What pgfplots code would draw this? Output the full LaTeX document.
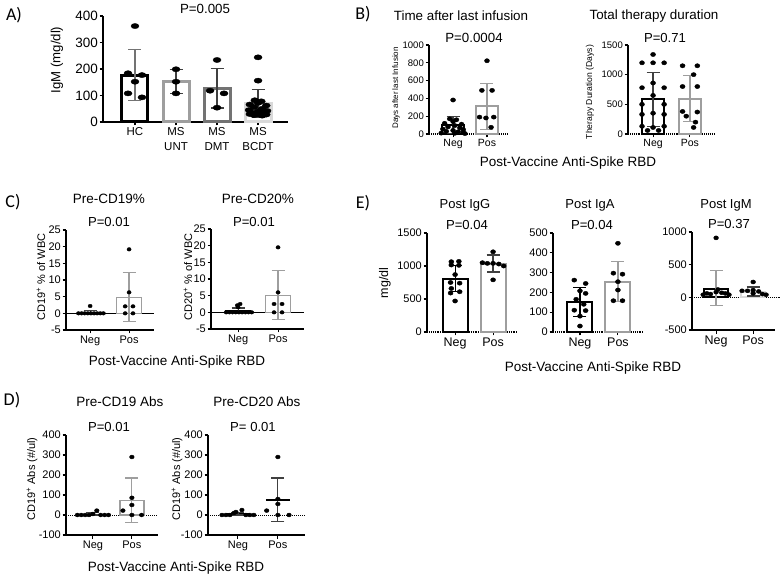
\documentclass[border=0pt]{standalone}
\usepackage{fontspec}
\setmainfont{Liberation Sans}
\newfontfamily\letterfont{Carlito}
\usepackage{pgfplots}
\pgfplotsset{compat=1.18}
\newcommand{\fs}[1]{\fontsize{#1}{#1}\selectfont}
\definecolor{lg}{gray}{0.62}
\definecolor{llg}{gray}{0.85}
\definecolor{mg}{gray}{0.45}
\definecolor{dg}{gray}{0.25}
\pgfplotsset{
  gp/.style={
    scale only axis, anchor=south west,
    axis lines*=left,
    axis line style={line width=1.1pt},
    tick align=outside, major tick length=3.5pt,
    tick style={line width=1.1pt, black},
    xtick={0,1}, xticklabels={Neg,Pos},
    clip=false,
    /pgf/number format/assume math mode=true,
    /pgf/number format/1000 sep={},
    yticklabel style={inner sep=1.5pt},
    xticklabel style={inner sep=2pt},
  },
  gbar/.style={ybar, bar shift=0pt, fill=white, forget plot},
  eb/.style={mark=none, forget plot, error bars/.cd, y dir=both, y explicit,
     error bar style={line width=1.2pt, #1},
     error mark options={rotate=90, mark size=6.5pt, line width=1.2pt, #1}},
  dots/.style={only marks, mark=*, black, mark size=#1, mark options={yscale=0.85}, forget plot},
}
\newcommand{\T}[4]{\node[font=#3, inner sep=0pt, anchor=center] at (#1pt,{579pt-#2pt}) {#4};}
\newcommand{\R}[4]{\node[font=#3, inner sep=0pt, anchor=center, rotate=90] at (#1pt,{579pt-#2pt}) {#4};}
\begin{document}
\begin{tikzpicture}
\path[use as bounding box] (0,0) rectangle (782pt,579pt);

% ---------------- Panel A ----------------
\begin{axis}[gp, at={(103pt,457pt)}, width=185pt, height=106pt,
  xmin=-0.78, xmax=3.73, ymin=0, ymax=400, ytick={0,100,200,300,400},
  xtick={0,1,2,3}, xticklabels={HC,{MS\\UNT},{MS\\DMT},{MS\\BCDT}},
  xticklabel style={align=center, font=\fontsize{11.5}{15}\selectfont},
  yticklabel style={font=\fs{13.5}},
  axis line style={line width=1.5pt}, tick style={line width=1.5pt}]
\addplot[gbar, draw=black, line width=3pt, bar width=26pt] coordinates {(0,177)};
\addplot[gbar, draw=lg, line width=3pt, bar width=26pt] coordinates {(1,152)};
\addplot[gbar, draw=mg, line width=3pt, bar width=26pt] coordinates {(2,128)};
\addplot[gbar, draw=llg, line width=3pt, bar width=26pt] coordinates {(3,70)};
\addplot[eb=mg] coordinates {(0,177) += (0,97) -= (0,97)};
\addplot[eb=dg] coordinates {(1,152) += (0,45) -= (0,45)};
\addplot[eb=dg] coordinates {(2,128) += (0,74) -= (0,75)};
\addplot[eb=dg] coordinates {(3,70) += (0,53) -= (0,53)};
\addplot[dots=4pt, mark options={yscale=0.65}] coordinates {
 (0,362) (-0.17,184) (0.17,177) (0,152) (-0.17,108) (0.17,93)
 (1,199) (1,152) (1,108)
 (2,234) (1.83,118) (2.17,108) (2,54)
 (3,244) (3,156) (2.92,82) (3.08,78) (3,72) (2.8,66) (3.2,62) (2.9,56) (3.1,50)
 (2.78,45) (3.22,42) (3,40) (2.86,35) (3.14,33) (3,29) (2.9,26) (3.1,24) (2.8,30) (3.2,28)};
\end{axis}
\T{14}{15}{\letterfont\fs{18}}{A)}
\T{205}{9}{\fs{13.3}}{P=0.005}
\R{57}{60}{\fs{13.2}}{IgM (mg/dl)}

% ---------------- Panel B ----------------
\begin{axis}[gp, at={(429pt,445pt)}, width=78pt, height=89pt,
  xmin=-0.71, xmax=1.59, ymin=0, ymax=1000, ytick={0,200,400,600,800,1000},
  x axis line style={dash pattern=on 1pt off 0.9pt},
  yticklabel style={font=\fs{9.5}}, xticklabel style={font=\fs{10.5}}]
\addplot[gbar, draw=black, line width=2pt, bar width=22pt] coordinates {(0,100)};
\addplot[gbar, draw=lg, line width=2pt, bar width=22pt] coordinates {(1,310)};
\addplot[eb=dg] coordinates {(0,100) += (0,95) -= (0,95)};
\addplot[eb=lg] coordinates {(1,310) += (0,260) -= (0,257)};
\addplot[dots=2.5pt] coordinates {
 (0,382) (-0.1,170) (0.1,160) (0,140) (-0.25,120) (0.25,110) (0.05,95) (-0.15,80)
 (0.2,70) (-0.3,55) (0.3,50) (0,40) (-0.2,30) (0.15,25) (0.3,15) (-0.35,10) (0.05,8) (0.35,5)
 (1,823) (0.85,490) (1.15,490) (0.78,190) (0.97,180) (1.2,190) (1.12,75)};
\end{axis}
\begin{axis}[gp, at={(628pt,445pt)}, width=87pt, height=89pt,
  xmin=-0.68, xmax=1.68, ymin=0, ymax=1500, ytick={0,500,1000,1500},
  x axis line style={dash pattern=on 1pt off 0.9pt},
  yticklabel style={font=\fs{9.5}}, xticklabel style={font=\fs{10.5}}]
\addplot[gbar, draw=black, line width=2pt, bar width=22pt] coordinates {(0,585)};
\addplot[gbar, draw=lg, line width=2pt, bar width=22pt] coordinates {(1,595)};
\addplot[eb=dg] coordinates {(0,585) += (0,455) -= (0,455)};
\addplot[eb=lg] coordinates {(1,595) += (0,388) -= (0,388)};
\addplot[dots=2.5pt] coordinates {
 (0,1340) (-0.3,1200) (0,1200) (0.3,1200) (0,860) (-0.3,780) (0.3,780) (0,650)
 (-0.3,500) (0.3,500) (0,350) (-0.3,330) (0.3,330) (-0.3,130) (0.3,130) (0,110) (-0.15,60) (0.15,60)
 (0.8,1150) (1.2,1150) (1.1,1000) (0.8,800) (1.2,800) (0.8,380) (1.2,370) (0.9,300) (1.15,200) (1.1,110)};
\end{axis}
\T{363}{14}{\letterfont\fs{18}}{B)}
\T{461}{16}{\fs{13.4}}{Time after last infusion}
\T{654}{16}{\fs{13.4}}{Total therapy duration}
\T{474}{38}{\fs{13.3}}{P=0.0004}
\T{665}{38}{\fs{13.1}}{P=0.71}
\R{396}{88}{\fs{8}}{Days after last Infusion}
\R{590}{92}{\fs{8.6}}{Therapy Duration (Days)}
\T{568}{163}{\fs{13.5}}{Post-Vaccine Anti-Spike RBD}

% ---------------- Panel C ----------------
\begin{axis}[gp, at={(66pt,249pt)}, width=88pt, height=100pt,
  xmin=-0.62, xmax=1.64, ymin=-5, ymax=25, ytick={-5,0,5,10,15,20,25},
  yticklabel style={font=\fs{11}}, xticklabel style={font=\fs{11}}]
\addplot[black, line width=1.1pt, forget plot] coordinates {(-0.62,0) (1.64,0)};
\addplot[gbar, draw=black, line width=1pt, bar width=25pt] coordinates {(0,0.3)};
\addplot[gbar, draw=lg, line width=1.5pt, bar width=25pt] coordinates {(1,4.8)};
\addplot[eb=dg] coordinates {(0,0.3) += (0,0.6) -= (0,0.3)};
\addplot[eb=lg] coordinates {(1,4.8) += (0,7.4) -= (0,7.3)};
\addplot[dots=2.1pt] coordinates {
 (0,2.2) (-0.3,0) (-0.22,0) (-0.14,0) (-0.06,0) (0.02,0) (0.1,0) (0.18,0) (0.26,0) (0.34,0)
 (1,19.2) (1,6.3) (0.9,2.1) (1.1,2.1) (0.9,0) (1.1,0)};
\end{axis}
\begin{axis}[gp, at={(211pt,250pt)}, width=93pt, height=100pt,
  xmin=-0.68, xmax=1.65, ymin=-5, ymax=25, ytick={-5,0,5,10,15,20,25},
  yticklabel style={font=\fs{11}}, xticklabel style={font=\fs{11}}]
\addplot[black, line width=1.1pt, forget plot] coordinates {(-0.68,0) (1.65,0)};
\addplot[gbar, draw=black, line width=1pt, bar width=25pt] coordinates {(0,0.5)};
\addplot[gbar, draw=lg, line width=1.5pt, bar width=25pt] coordinates {(1,5.0)};
\addplot[eb=dg] coordinates {(0,0.5) += (0,0.8) -= (0,0.5)};
\addplot[eb=lg] coordinates {(1,5.0) += (0,7.5) -= (0,7.2)};
\addplot[dots=2.1pt] coordinates {
 (0.05,2.5) (-0.02,2.1) (0,1.5) (-0.3,0) (-0.22,0) (-0.14,0) (-0.06,0) (0.02,0) (0.1,0) (0.18,0) (0.26,0) (0.34,0)
 (1,19.5) (1,6.0) (0.9,2.5) (1.1,2.5) (0.9,0) (1.1,0)};
\end{axis}
\T{13}{202}{\letterfont\fs{18}}{C)}
\T{109}{199}{\fs{13.5}}{Pre-CD19\%}
\T{258}{199}{\fs{13.5}}{Pre-CD20\%}
\T{109}{222}{\fs{13.1}}{P=0.01}
\T{254}{222}{\fs{13.1}}{P=0.01}
\R{41}{277}{\fs{11}}{CD19\textsuperscript{+} \% of WBC}
\R{188}{277}{\fs{11}}{CD20\textsuperscript{+} \% of WBC}
\T{177}{362}{\fs{13.5}}{Post-Vaccine Anti-Spike RBD}

% ---------------- Panel D ----------------
\begin{axis}[gp, at={(66pt,44pt)}, width=92pt, height=100pt,
  xmin=-0.69, xmax=1.67, ymin=-100, ymax=400, ytick={-100,0,100,200,300,400},
  yticklabel style={font=\fs{11}}, xticklabel style={font=\fs{11}}]
\addplot[black, line width=1pt, dash pattern=on 1pt off 1pt, forget plot] coordinates {(-0.69,0) (1.67,0)};
\addplot[gbar, draw=lg, line width=1.3pt, bar width=24pt] coordinates {(1,74)};
\addplot[eb=lg] coordinates {(1,74) += (0,111) -= (0,111)};
\addplot[eb=dg] coordinates {(0,4) += (0,8) -= (0,4)};
\addplot[dots=2.3pt] coordinates {
 (-0.4,0) (-0.3,0) (-0.2,0) (-0.1,0) (0,5) (0.1,22) (0.2,0) (0.3,0) (0.4,0)
 (1,290) (1,86) (1,50) (0.77,22) (1,0) (1.25,0)};
\end{axis}
\begin{axis}[gp, at={(208pt,44pt)}, width=97pt, height=100pt,
  xmin=-0.75, xmax=1.68, ymin=-100, ymax=400, ytick={-100,0,100,200,300,400},
  yticklabel style={font=\fs{11}}, xticklabel style={font=\fs{11}}]
\addplot[black, line width=1pt, dash pattern=on 1pt off 1pt, forget plot] coordinates {(-0.75,0) (1.68,0)};
\addplot[black, line width=1.2pt, forget plot] coordinates {(0.7,75) (1.3,75)};
\addplot[black, line width=1.2pt, forget plot] coordinates {(-0.3,5) (0.3,5)};
\addplot[eb=dg] coordinates {(1,75) += (0,110) -= (0,108)};
\addplot[eb=dg] coordinates {(0,5) += (0,9) -= (0,5)};
\addplot[dots=2.3pt] coordinates {
 (-0.4,0) (-0.3,0) (-0.2,0) (-0.1,10) (-0.05,15) (0.1,25) (0.2,0) (0.3,0) (0.4,0)
 (1,290) (1,80) (1,55) (0.72,22) (1,0) (1.28,0)};
\end{axis}
\T{12}{400}{\letterfont\fs{18}}{D)}
\T{120}{402}{\fs{13.5}}{Pre-CD19 Abs}
\T{257}{402}{\fs{13.5}}{Pre-CD20 Abs}
\T{109}{427}{\fs{13.1}}{P=0.01}
\T{253}{427}{\fs{13.1}}{P= 0.01}
\R{32}{479}{\fs{11}}{CD19\textsuperscript{+} Abs (\#/ul)}
\R{177}{479}{\fs{11}}{CD19\textsuperscript{+} Abs (\#/ul)}
\T{176}{568}{\fs{13.5}}{Post-Vaccine Anti-Spike RBD}

% ---------------- Panel E ----------------
\begin{axis}[gp, at={(427pt,247pt)}, width=90pt, height=99pt,
  xmin=-0.74, xmax=1.63, ymin=0, ymax=1500, ytick={0,500,1000,1500},
  x axis line style={dash pattern=on 1pt off 0.9pt},
  yticklabel style={font=\fs{11}}, xticklabel style={font=\fs{12.5}}]
\addplot[gbar, draw=black, line width=2pt, bar width=25pt] coordinates {(0,810)};
\addplot[gbar, draw=lg, line width=2pt, bar width=25pt] coordinates {(1,1030)};
\addplot[eb=black] coordinates {(0,810) += (0,200) -= (0,200)};
\addplot[eb=dg] coordinates {(1,1030) += (0,137) -= (0,121)};
\addplot[dots=2.5pt] coordinates {
 (-0.1,1065) (0.1,1070) (-0.1,1015) (0.1,1010) (0,870) (-0.12,750) (0.12,740) (-0.1,660)
 (0.12,610) (-0.12,590) (0,470)
 (1,1215) (0.72,1050) (0.85,1040) (1.0,1040) (1.15,1030) (1.28,1000) (1,790)};
\end{axis}
\begin{axis}[gp, at={(553pt,247pt)}, width=90pt, height=99pt,
  xmin=-0.71, xmax=1.66, ymin=0, ymax=500, ytick={0,100,200,300,400,500},
  x axis line style={dash pattern=on 1pt off 0.9pt},
  yticklabel style={font=\fs{11}}, xticklabel style={font=\fs{12.5}}]
\addplot[gbar, draw=black, line width=2pt, bar width=25pt] coordinates {(0,153)};
\addplot[gbar, draw=lg, line width=2pt, bar width=25pt] coordinates {(1,254)};
\addplot[eb=black] coordinates {(0,153) += (0,73) -= (0,76)};
\addplot[eb=lg] coordinates {(1,254) += (0,101) -= (0,101)};
\addplot[dots=2.5pt] coordinates {
 (-0.15,262) (0.15,245) (0,208) (0.15,195) (-0.1,165) (0.1,140) (-0.15,110) (0.15,108) (0,80) (0,30)
 (1,448) (0.88,297) (1.12,292) (1,254) (1,212) (0.88,158) (1.12,158)};
\end{axis}
\begin{axis}[gp, at={(692pt,249pt)}, width=83pt, height=98pt,
  xmin=-0.65, xmax=1.59, ymin=-500, ymax=1000, ytick={-500,0,500,1000},
  yticklabel style={font=\fs{11}}, xticklabel style={font=\fs{12.5}}]
\addplot[black, line width=1.1pt, dash pattern=on 1pt off 0.9pt, forget plot] coordinates {(-0.65,0) (1.72,0)};
\addplot[gbar, draw=black, line width=2pt, bar width=24pt] coordinates {(0,128)};
\addplot[gbar, draw=llg, line width=2pt, bar width=24pt] coordinates {(1,85)};
\addplot[eb=lg] coordinates {(0,128) += (0,282) -= (0,248)};
\addplot[eb=dg] coordinates {(1,85) += (0,73) -= (0,65)};
\addplot[dots=2.4pt] coordinates {
 (0,910) (0.05,120) (-0.25,60) (-0.15,50) (0,80) (0.15,70) (0.25,60) (0.35,40) (-0.35,40)
 (1,235) (0.7,100) (0.85,100) (1.0,110) (1.15,90) (1.0,60) (1.25,50) (1.35,40)};
\end{axis}
\T{363}{203}{\letterfont\fs{18}}{E)}
\T{465}{205}{\fs{13}}{Post IgG}
\T{590}{205}{\fs{13}}{Post IgA}
\T{726}{205}{\fs{13}}{Post IgM}
\T{467}{225}{\fs{13.1}}{P=0.04}
\T{592}{225}{\fs{13.1}}{P=0.04}
\T{729}{224}{\fs{13.1}}{P=0.37}
\R{385}{283}{\fs{12.5}}{mg/dl}
\T{593}{368}{\fs{13.5}}{Post-Vaccine Anti-Spike RBD}
\end{tikzpicture}
\end{document}
